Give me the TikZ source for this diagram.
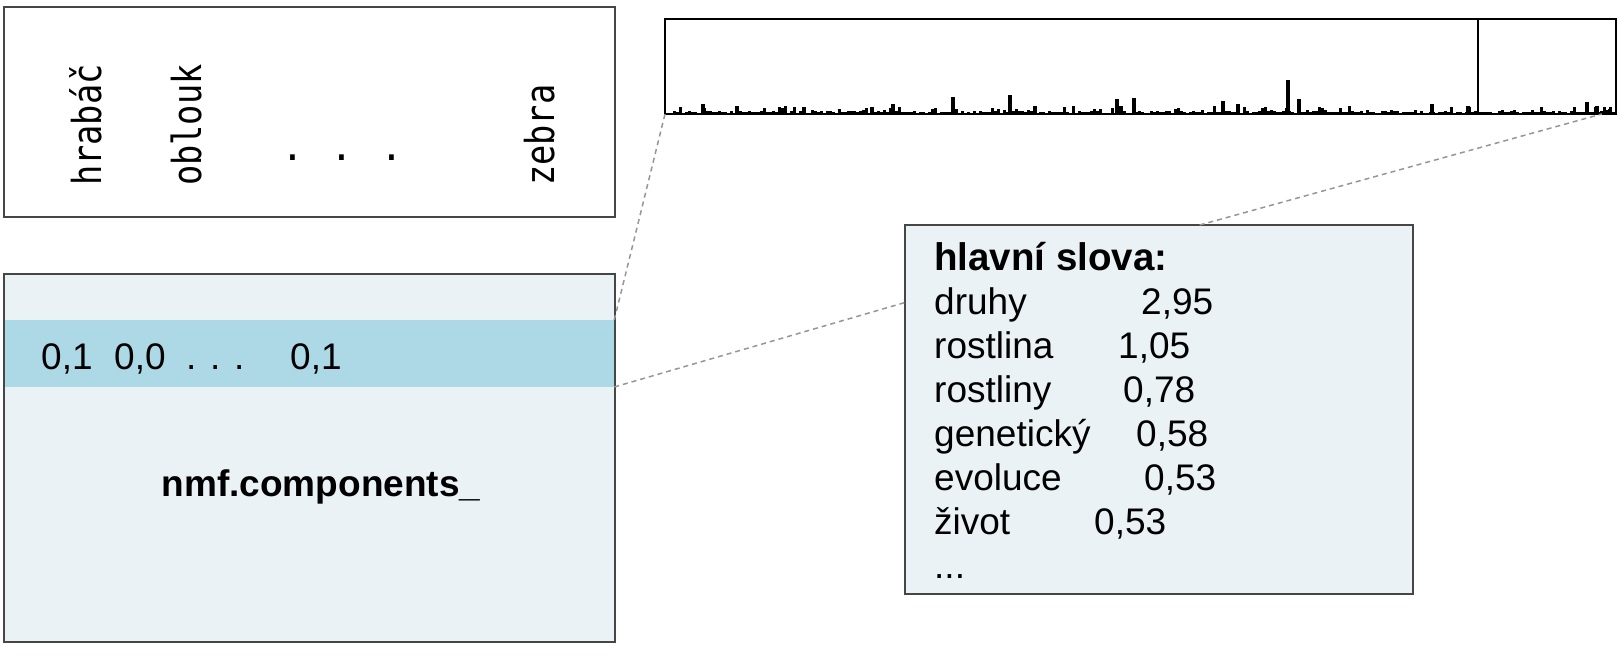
\documentclass[tikz,border=0pt]{standalone}
\usepackage{graphicx}
\usepackage{fontspec}
\setmainfont{Liberation Sans}
\newfontfamily\monofont{DejaVu Sans Mono}
\usetikzlibrary{calc}
\definecolor{boxfill}{RGB}{234,242,246}
\definecolor{bandfill}{RGB}{173,216,230}
\definecolor{edge}{RGB}{70,70,70}
\definecolor{dashgray}{RGB}{150,150,150}
\newcommand{\vtext}[1]{\scalebox{0.84}[1]{#1}}
\tikzset{
  box/.style={rectangle, draw=edge, line width=1.5pt, fill=boxfill, inner sep=0pt, outer sep=0pt},
  vword/.style={font=\monofont\fontsize{40}{44}\selectfont, rotate=90, anchor=base west, inner sep=0pt},
  dotnode/.style={font=\monofont\fontsize{38}{40}\selectfont, inner sep=0pt},
  txt/.style={font=\fontsize{37}{43}\selectfont, anchor=base west, inner sep=0pt},
  btxt/.style={font=\bfseries\fontsize{37}{43}\selectfont, anchor=base west, inner sep=0pt},
  link/.style={draw=dashgray, line width=1.5pt, dash pattern=on 5pt off 4pt},
}
\begin{document}
\begin{tikzpicture}[x=1pt,y=-1pt]
\useasboundingbox (0,0) rectangle (1619,656);
% vocabulary box
\node[box, fill=white, minimum width=611pt, minimum height=210pt] (vocab) at (309.5,112) {};
\node[vword] (w1) at (101,186) {\vtext{hrabáč}};
\node[vword] (w2) at (201,186) {\vtext{oblouk}};
\node[dotnode] (d1) at (293,158) {.};
\node[dotnode] (d2) at (342,158) {.};
\node[dotnode] (d3) at (392,158) {.};
\node[vword] (w3) at (554,186) {\vtext{zebra}};
% components box
\node[box, minimum width=611pt, minimum height=368pt] (comp) at (309.5,458) {};
\node[rectangle, fill=bandfill, inner sep=0pt, outer sep=0pt, minimum width=609.5pt, minimum height=67pt] (band) at (309.5,353.5) {};
\node[txt] (v1) at (41,369) {0,1};
\node[txt] (v2) at (114,369) {0,0};
\node[txt] (v3) at (186,369) {. . .};
\node[txt] (v4) at (290,369) {0,1};
\node[btxt, anchor=base] (cname) at (321,496) {nmf.components\_};
% histogram
\node[rectangle, draw=black, line width=2pt, inner sep=0pt, outer sep=0pt, minimum width=951pt, minimum height=95pt] (hist) at (1140.5,66.5) {};
\pgfmathsetseed{42}
\foreach \i in {0,...,315}{
  \pgfmathsetmacro\xx{667+3*\i}
  \pgfmathsetmacro\hh{(rnd<0.2) ? (2+5*rnd) : (2*rnd)}
  \fill (\xx,113) rectangle ++(3,-\hh);
}
\foreach \bx/\by in {701/104, 735/106, 780/108, 802/107, 870/107, 891/104, 951/97, 1008/95, 1033/106, 1115/99, 1119/106, 1132/98, 1221/101, 1236/104, 1286/80, 1297/99, 1430/104, 1466/106, 1585/102, 1595/106, 1608/109}{
  \fill (\bx,113) rectangle (\bx+4,\by);
}
\draw[line width=2pt] (1478,19) -- (1478,113);
% words box
\node[box, minimum width=508pt, minimum height=369pt] (words) at (1159,409.5) {};
\node[btxt, font=\bfseries\fontsize{38.5}{43}\selectfont] (t0) at (934,270) {hlavní slova:};
\node[txt] (a1) at (934,314) {druhy};
\node[txt] (b1) at (1141,314) {2,95};
\node[txt] (a2) at (934,358) {rostlina};
\node[txt] (b2) at (1118,358) {1,05};
\node[txt] (a3) at (934,402) {rostliny};
\node[txt] (b3) at (1123,402) {0,78};
\node[txt] (a4) at (934,446) {genetický};
\node[txt] (b4) at (1136,446) {0,58};
\node[txt] (a5) at (934,490) {evoluce};
\node[txt] (b5) at (1144,490) {0,53};
\node[txt] (a6) at (934,534) {život};
\node[txt] (b6) at (1094,534) {0,53};
\node[txt] (a7) at (934,578) {...};
% connectors
\coordinate (wl) at ($(words.north west)!0.21!(words.south west)$);
\coordinate (wt) at ($(words.north west)!0.58!(words.north east)$);
\coordinate (hr) at ($(hist.south west)!0.985!(hist.south east)$);
\draw[link] (band.north east) -- (hist.south west);
\draw[link] (band.south east) -- (wl);
\draw[link] (wt) -- (hr);
\end{tikzpicture}
\end{document}
